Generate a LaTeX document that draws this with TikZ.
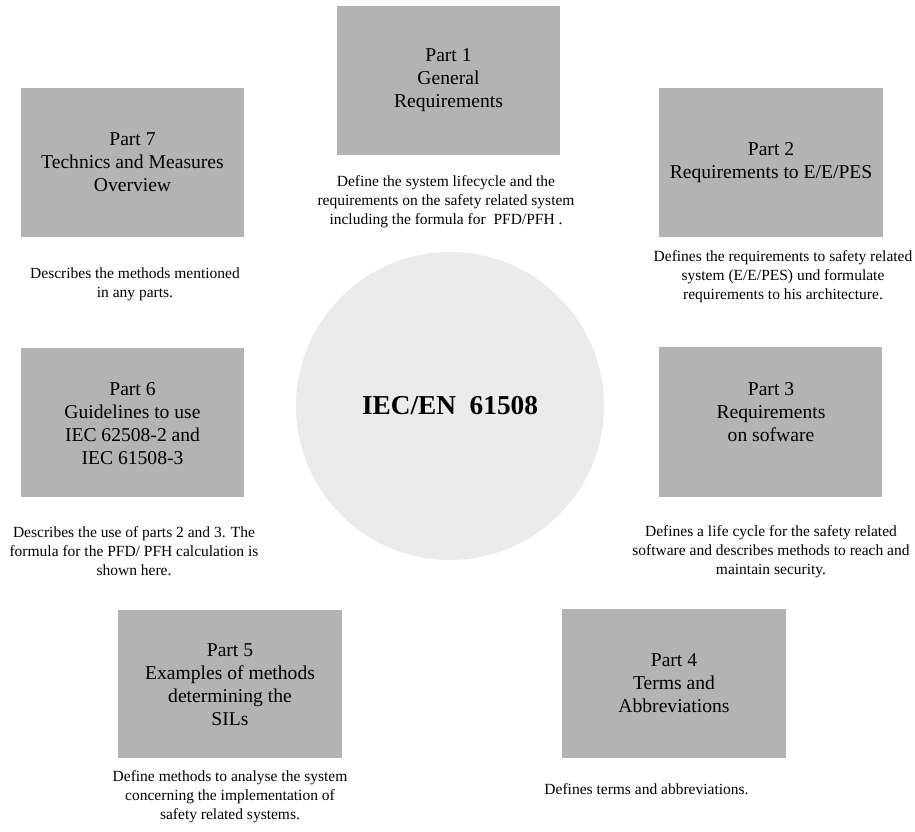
\documentclass[tikz,border=0pt]{standalone}
\usepackage{fontspec}
\setmainfont{Liberation Serif}
\definecolor{boxgray}{HTML}{B3B3B3}
\definecolor{circgray}{HTML}{EBEBEB}
\tikzset{
  partbox/.style={fill=boxgray, draw=none, inner sep=0pt, anchor=north west},
  parttext/.style={align=center, inner sep=0pt, font=\fontsize{19.6}{23}\selectfont},
  desctext/.style={align=center, inner sep=0pt, font=\fontsize{15.5}{19}\selectfont},
}
\begin{document}
\begin{tikzpicture}[x=1pt, y=-1pt]
\useasboundingbox (0,0) rectangle (915,832);
\fill[white] (0,0) rectangle (915,832);
% central circle
\node[circle, fill=circgray, minimum size=308pt, inner sep=0pt] (hub) at (450,406) {};
\node[inner sep=0pt, font=\fontsize{27.3}{30}\selectfont\bfseries] (title) at (450,406) {IEC/EN\ \ 61508};
% boxes
\node[partbox, minimum width=223pt, minimum height=149pt] (b1) at (337,6) {};
\node[partbox, minimum width=224pt, minimum height=149pt] (b2) at (659,88) {};
\node[partbox, minimum width=223pt, minimum height=150pt] (b3) at (659,347) {};
\node[partbox, minimum width=224pt, minimum height=149pt] (b4) at (562,609) {};
\node[partbox, minimum width=224pt, minimum height=148pt] (b5) at (118,610) {};
\node[partbox, minimum width=223pt, minimum height=149pt] (b6) at (21,348) {};
\node[partbox, minimum width=223pt, minimum height=149pt] (b7) at (21,88) {};
% box texts
\node[parttext] (t1) at (448.5,80) {Part 1\\General\\Requirements};
\node[parttext] (t2) at (771,163) {Part 2\\Requirements to E/E/PES};
\node[parttext] (t3) at (771,412) {Part 3\\Requirements\\on sofware};
\node[parttext] (t4) at (674,683.5) {Part 4\\Terms and\\Abbreviations};
\node[parttext] (t5) at (230,685) {Part 5\\Examples of methods\\determining the\\SILs};
\node[parttext] (t6) at (132.5,423.5) {Part 6\\Guidelines to use\\IEC 62508-2 and\\IEC 61508-3};
\node[parttext] (t7) at (132.5,162) {Part 7\\Technics and Measures\\Overview};
% descriptions
\node[desctext] (d1) at (446,202) {Define the system lifecycle and the\\requirements on the safety related system\\including the formula for\ \ PFD/PFH .};
\node[desctext] (d2) at (783,277) {Defines the requirements to safety related\\system (E/E/PES) und formulate\\requirements to his architecture.};
\node[desctext] (d3) at (771,552) {Defines a life cycle for the safety related\\software and describes methods to reach and\\maintain security.};
\node[desctext] (d4) at (646.5,789) {Defines terms and abbreviations.};
\node[desctext] (d5) at (230,797) {Define methods to analyse the system\\concerning the implementation of\\safety related systems.};
\node[desctext] (d6) at (134,551) {Describes the use of parts 2 and 3. The\\formula for the PFD/ PFH calculation is\\shown here.};
\node[desctext] (d7) at (135,284) {Describes the methods mentioned\\in any parts.};
\end{tikzpicture}
\end{document}
